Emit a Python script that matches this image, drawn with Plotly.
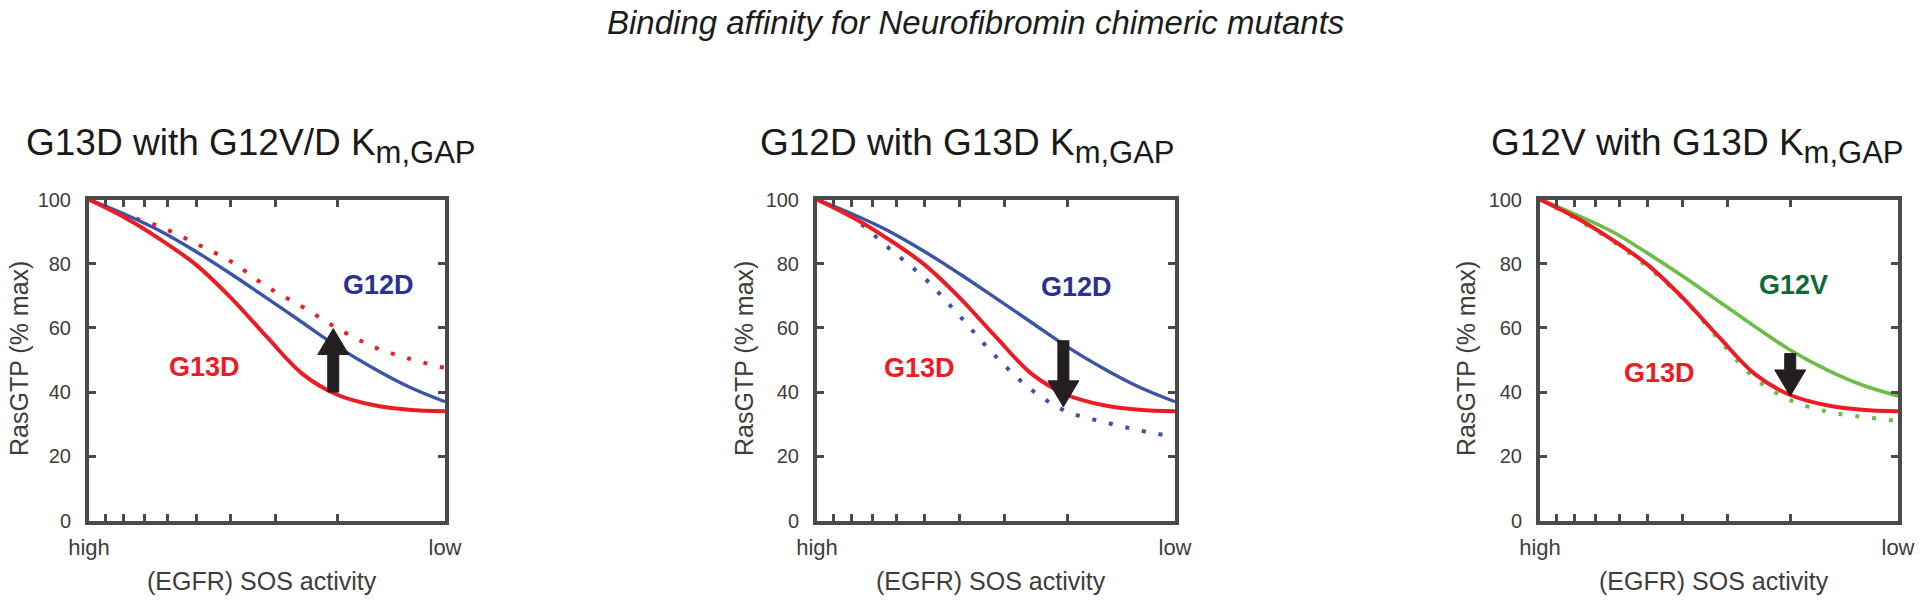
import plotly.graph_objects as go

# ---------------- data ----------------
sos_activity = [10, 7.94, 6.31, 5.01, 3.98, 3.16, 2.51, 2.0, 1.58, 1.26, 1.0]  # high -> low
x_tickvals = [10, 9, 8, 7, 6, 5, 4, 3, 2, 1]
x_ticktext = ["high", "", "", "", "", "", "", "", "", "low"]
y_tickvals = [0, 20, 40, 60, 80, 100]

g13d = [100, 94.4, 87.6, 79.7, 69.2, 57.1, 45.6, 39.1, 35.9, 34.5, 34.0]
g12d = [100, 95.4, 90.2, 83.8, 76.7, 69.2, 61.6, 54.1, 47.3, 41.6, 37.0]
g12v = [100, 95.3, 90.1, 83.3, 76.0, 68.2, 60.4, 53.1, 46.9, 42.2, 38.8]
g13d_with_g12vd_km = [100, 95.3, 91.5, 86.3, 80.6, 72.8, 66.5, 59.8, 54.0, 50.4, 47.5]
g12d_with_g13d_km = [100, 94.3, 84.9, 75.5, 63.5, 51.0, 40.6, 33.9, 30.7, 28.1, 26.0]
g12v_with_g13d_km = [100, 94.0, 87.2, 79.0, 69.0, 56.3, 44.3, 37.5, 33.9, 32.3, 31.0]

panel_titles = ["G13D with G12V/D K", "G12D with G13D K", "G12V with G13D K"]
panel_title_sub = "m,GAP"
main_title = "Binding affinity for Neurofibromin chimeric mutants"
y_title = "RasGTP (% max)"
x_title = "(EGFR) SOS activity"

arrow_x = [2.06, 2.05, 2.0]
arrow_from = [40.0, 56.0, 52.0]
arrow_to = [59.8, 35.4, 38.8]

# ---------------- style ----------------
W, H = 1920, 602
RED = "#ed1c24"
BLUE = "#3a55a5"
BLUE_TXT = "#2b3192"
GREEN = "#6abd45"
GREEN_TXT = "#0c6b38"
FRAME = "#4a4a4a"
TXT = "#3d3d3d"
FONT = "Liberation Sans, Arial, Helvetica, sans-serif"

x_dom_px = [(89, 445), (817, 1175), (1540, 1898)]
y_dom_px = (199.5, 520.5)

fig = go.Figure()

panels = [
    [(g13d_with_g12vd_km, RED, 4, "4px,13px"), (g12d, BLUE, 3.4, None), (g13d, RED, 4, None)],
    [(g12d_with_g13d_km, BLUE, 4, "4px,13px"), (g12d, BLUE, 3.4, None), (g13d, RED, 4, None)],
    [(g12v_with_g13d_km, GREEN, 4, "4px,13px"), (g12v, GREEN, 3.6, None), (g13d, RED, 4, None)],
]

for i, traces in enumerate(panels):
    xa = "x" if i == 0 else f"x{i+1}"
    ya = "y" if i == 0 else f"y{i+1}"
    for vals, col, lw, dash in traces:
        fig.add_trace(go.Scatter(
            x=sos_activity, y=vals, mode="lines", xaxis=xa, yaxis=ya,
            line=dict(color=col, width=lw, shape="spline", smoothing=1.0,
                      dash=dash if dash else "solid"),
            showlegend=False, hoverinfo="skip"))
    # arrow polygon
    xc = arrow_x[i]
    y0, y1 = arrow_from[i], arrow_to[i]
    axis_px = x_dom_px[i][1] - x_dom_px[i][0]
    ppu = (y_dom_px[1] - y_dom_px[0]) / 100.0
    shaft = 5.5 / axis_px
    head = 15.5 / axis_px
    hlen = 26 / ppu
    sgn = 1 if y1 > y0 else -1
    yb = y1 - sgn * hlen
    f = lambda d: xc * 10 ** d
    ax = [f(-shaft), f(-shaft), f(-head), xc, f(head), f(shaft), f(shaft), f(-shaft)]
    ay = [y0, yb, yb, y1, yb, yb, y0, y0]
    fig.add_trace(go.Scatter(
        x=ax, y=ay, mode="lines", fill="toself", fillcolor="#231f20",
        line=dict(color="#231f20", width=1), xaxis=xa, yaxis=ya,
        showlegend=False, hoverinfo="skip"))

layout = dict(
    template="none",
    width=W, height=H, margin=dict(l=0, r=0, t=0, b=0, autoexpand=False),
    paper_bgcolor="white", plot_bgcolor="white",
    font=dict(family=FONT, color=TXT),
    showlegend=False,
)
for i in range(3):
    xk = "xaxis" if i == 0 else f"xaxis{i+1}"
    yk = "yaxis" if i == 0 else f"yaxis{i+1}"
    xa = "x" if i == 0 else f"x{i+1}"
    ya = "y" if i == 0 else f"y{i+1}"
    layout[xk] = dict(
        domain=[x_dom_px[i][0] / W, x_dom_px[i][1] / W], anchor=ya,
        type="log", range=[1, 0], tickvals=x_tickvals, ticktext=x_ticktext,
        ticks="inside", ticklen=7, tickwidth=3, tickcolor=FRAME,
        showline=True, linewidth=4, linecolor=FRAME, mirror="ticks",
        showgrid=False, zeroline=False, ticklabelstandoff=4, automargin=False,
        tickfont=dict(size=22, color=TXT, family=FONT), fixedrange=True)
    layout[yk] = dict(
        domain=[1 - y_dom_px[1] / H, 1 - y_dom_px[0] / H], anchor=xa,
        range=[0, 100], tickvals=y_tickvals,
        ticks="inside", ticklen=7, tickwidth=3, tickcolor=FRAME,
        showline=True, linewidth=4, linecolor=FRAME, mirror="ticks",
        showgrid=False, zeroline=False, ticklabelstandoff=10, automargin=False,
        tickfont=dict(size=20, color=TXT, family=FONT), fixedrange=True)

fig.update_layout(**layout)

def ann(text, px, py, size, color, bold=False, italic=False, angle=0, xanchor="center", yanchor="middle"):
    t = f"<b>{text}</b>" if bold else text
    t = f"<i>{t}</i>" if italic else t
    fig.add_annotation(text=t, x=px / W, y=1 - py / H, xref="paper", yref="paper",
                       showarrow=False, textangle=angle, xanchor=xanchor, yanchor=yanchor,
                       font=dict(size=size, color=color, family=FONT))

ann(main_title, 975, 22, 33, "#1c1c1c", italic=True)
title_cx = [251, 967, 1697]
xlab_cx = [262, 991, 1714]
ylab_cx = [19, 744, 1466]
for i in range(3):
    ttl = f'{panel_titles[i]}<sub><span style="font-size:31px">{panel_title_sub}</span></sub>'
    ann(ttl, title_cx[i], 146, 37, "#1a1a1a")
    ann(x_title, xlab_cx[i], 581, 25, TXT)
    ann(y_title, ylab_cx[i], 359, 25, TXT, angle=-90)

curve_labels = [("G12D", 378, 285, BLUE_TXT), ("G13D", 204, 367, RED),
                ("G12D", 1076, 287, BLUE_TXT), ("G13D", 919, 368, RED),
                ("G12V", 1793, 285, GREEN_TXT), ("G13D", 1659, 373, RED)]
for txt, px, py, col in curve_labels:
    ann(txt, px, py, 27, col, bold=True)

fig.write_html("out.html", config={"displayModeBar": False},
               post_script="document.body.style.margin='0px';document.body.style.padding='0px';")
